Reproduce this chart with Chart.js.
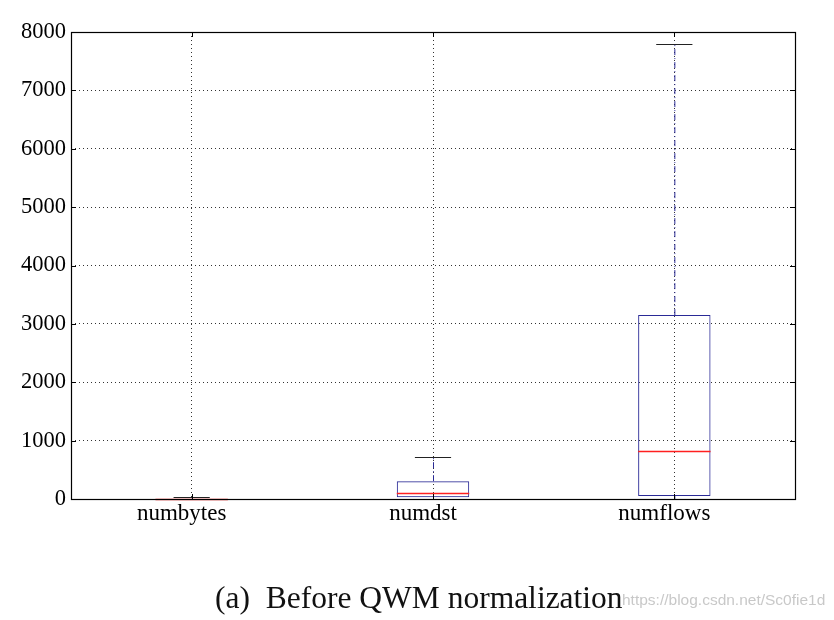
<!DOCTYPE html>
<html><head><meta charset="utf-8">
<script src="https://cdn.jsdelivr.net/npm/chart.js@4"></script>
<style>html,body{margin:0;padding:0;background:#fff;}#wrap{width:834px;height:620px;position:relative;}</style>
</head><body><div id="wrap"><canvas id="c" width="834" height="620"></canvas></div>
<script>
const categories = ['numbytes', 'numdst', 'numflows'];
const whiskerLow = [0, 0, 0];
const q1 = [0, 30, 50];
const median = [4, 100, 825];
const q3 = [10, 305, 3150];
const whiskerHigh = [30, 720, 7790];
const yTicks = [0, 1000, 2000, 3000, 4000, 5000, 6000, 7000, 8000];
const caption = '(a)  Before QWM normalization';
const watermark = 'https://blog.csdn.net/Sc0fie1d';

const SERIF = '"Liberation Serif", "DejaVu Serif", serif';
const BLUE = '#2a2a96';

const boxPlugin = {
  id: 'boxExtras',
  afterDatasetsDraw(chart) {
    const ctx = chart.ctx, x = chart.scales.x, y = chart.scales.y;
    const meta = chart.getDatasetMeta(0);
    ctx.save();
    categories.forEach((c, i) => {
      const bar = meta.data[i];
      const cx = x.getPixelForValue(i);
      const bw = bar.width;
      // whiskers dash-dot
      ctx.strokeStyle = BLUE; ctx.lineWidth = 1; ctx.setLineDash([6, 3, 1, 3]);
      ctx.beginPath();
      ctx.moveTo(cx + 0.5, y.getPixelForValue(q3[i])); ctx.lineTo(cx + 0.5, y.getPixelForValue(whiskerHigh[i]));
      ctx.moveTo(cx + 0.5, y.getPixelForValue(q1[i])); ctx.lineTo(cx + 0.5, y.getPixelForValue(whiskerLow[i]));
      ctx.stroke();
      ctx.setLineDash([]);
      // caps
      ctx.strokeStyle = '#222'; ctx.lineWidth = 1; ctx.beginPath();
      [whiskerHigh[i], whiskerLow[i]].forEach(v => {
        const py = Math.round(y.getPixelForValue(v)) + 0.5;
        ctx.moveTo(cx - bw / 4, py); ctx.lineTo(cx + bw / 4, py);
      });
      ctx.stroke();
      // median
      ctx.strokeStyle = '#ff2020'; ctx.lineWidth = 1.5; ctx.beginPath();
      const my = Math.round(y.getPixelForValue(median[i])) + 0.5;
      ctx.moveTo(cx - bw / 2, my); ctx.lineTo(cx + bw / 2, my); ctx.stroke();
    });
    // frame
    const a = chart.chartArea;
    ctx.strokeStyle = '#000'; ctx.lineWidth = 1.2;
    ctx.strokeRect(Math.round(a.left) + 0.5, Math.round(a.top) + 0.5, Math.round(a.right - a.left), Math.round(a.bottom - a.top));
    ctx.lineWidth = 1; ctx.beginPath();
    yTicks.forEach(v => {
      const py = Math.round(y.getPixelForValue(v)) + 0.5;
      ctx.moveTo(a.left, py); ctx.lineTo(a.left + 5, py);
      ctx.moveTo(a.right, py); ctx.lineTo(a.right - 5, py);
    });
    categories.forEach((c, i) => {
      const px = Math.round(x.getPixelForValue(i)) + 0.5;
      ctx.moveTo(px, a.bottom); ctx.lineTo(px, a.bottom - 5);
      ctx.moveTo(px, a.top); ctx.lineTo(px, a.top + 5);
    });
    ctx.stroke();
    // caption
    ctx.fillStyle = '#111'; ctx.font = '31.5px ' + SERIF; ctx.textBaseline = 'alphabetic'; ctx.textAlign = 'left';
    ctx.fillText(caption, 215, 608);
    ctx.fillStyle = 'rgba(190,190,190,0.85)'; ctx.font = '15.5px "Liberation Sans", Arial, sans-serif';
    ctx.fillText(watermark, 622, 605);
    ctx.restore();
  }
};

new Chart(document.getElementById('c'), {
  type: 'bar',
  data: {
    labels: categories,
    datasets: [{
      data: categories.map((c, i) => [q1[i], q3[i]]),
      backgroundColor: 'rgba(0,0,0,0)',
      borderColor: BLUE,
      borderWidth: 1,
      borderSkipped: false,
      barPercentage: 1,
      categoryPercentage: 0.30
    }]
  },
  options: {
    responsive: false,
    animation: false,
    layout: { padding: { left: 0, top: 32, right: 39, bottom: 90 } },
    plugins: { legend: { display: false }, tooltip: { enabled: false } },
    scales: {
      x: {
        grid: { color: '#333', drawTicks: false, offset: false },
        border: { display: false, dash: [1, 3] },
        ticks: { color: '#000', font: { family: SERIF, size: 23 }, padding: 1, labelOffset: -10 },
        afterFit: s => { s.height = 31; }
      },
      y: {
        min: 0, max: 8000,
        afterBuildTicks: s => { s.ticks = yTicks.map(v => ({ value: v })); },
        grid: { color: '#333', drawTicks: false },
        border: { display: false, dash: [1, 3] },
        ticks: { color: '#000', font: { family: SERIF, size: 22.5 }, padding: 5, callback: v => String(v) },
        afterFit: s => { s.width = 71; }
      }
    }
  },
  plugins: [boxPlugin]
});
</script></body></html>
